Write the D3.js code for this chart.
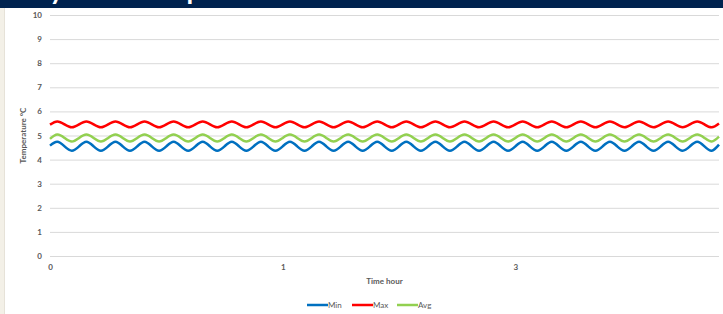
<!DOCTYPE html>
<html>
<head>
<meta charset="utf-8">
<script src="https://cdn.jsdelivr.net/npm/d3@7"></script>
<style>
  body { margin: 0; background: #ffffff; }
  svg { display: block; }
  text { font-family: Lato, "Liberation Sans", sans-serif; }
</style>
</head>
<body>
<div id="chart"></div>
<script>
// x categories: sample index, labels shown at a few of them
var tickIndex = [0, 32, 64];
var tickLabels = ["0", "1", "3"];

var seriesNames = ["Min", "Max", "Avg"];
var seriesColors = ["#0070c0", "#ff0000", "#92d050"];

// 4 samples per wave
var minTemp = [
  4.58, 4.74, 4.55, 4.37, 4.55, 4.74, 4.55, 4.37, 4.55, 4.74, 4.55, 4.37,
  4.55, 4.74, 4.55, 4.37, 4.55, 4.74, 4.55, 4.37, 4.55, 4.74, 4.55, 4.37,
  4.55, 4.74, 4.55, 4.37, 4.55, 4.74, 4.55, 4.37, 4.55, 4.74, 4.55, 4.37,
  4.55, 4.74, 4.55, 4.37, 4.55, 4.74, 4.55, 4.37, 4.55, 4.74, 4.55, 4.37,
  4.55, 4.74, 4.55, 4.37, 4.55, 4.74, 4.55, 4.37, 4.55, 4.74, 4.55, 4.37,
  4.55, 4.74, 4.55, 4.37, 4.55, 4.74, 4.55, 4.37, 4.55, 4.74, 4.55, 4.37,
  4.55, 4.74, 4.55, 4.37, 4.55, 4.74, 4.55, 4.37, 4.55, 4.74, 4.55, 4.37,
  4.55, 4.74, 4.55, 4.37, 4.55, 4.74, 4.55, 4.37, 4.62
];
var maxTemp = [
  5.45, 5.58, 5.46, 5.34, 5.46, 5.58, 5.46, 5.34, 5.46, 5.58, 5.46, 5.34,
  5.46, 5.58, 5.46, 5.34, 5.46, 5.58, 5.46, 5.34, 5.46, 5.58, 5.46, 5.34,
  5.46, 5.58, 5.46, 5.34, 5.46, 5.58, 5.46, 5.34, 5.46, 5.58, 5.46, 5.34,
  5.46, 5.58, 5.46, 5.34, 5.46, 5.58, 5.46, 5.34, 5.46, 5.58, 5.46, 5.34,
  5.46, 5.58, 5.46, 5.34, 5.46, 5.58, 5.46, 5.34, 5.46, 5.58, 5.46, 5.34,
  5.46, 5.58, 5.46, 5.34, 5.46, 5.58, 5.46, 5.34, 5.46, 5.58, 5.46, 5.34,
  5.46, 5.58, 5.46, 5.34, 5.46, 5.58, 5.46, 5.34, 5.46, 5.58, 5.46, 5.34,
  5.46, 5.58, 5.46, 5.34, 5.46, 5.58, 5.46, 5.34, 5.50
];
var avgTemp = [
  4.86, 5.04, 4.90, 4.75, 4.90, 5.04, 4.90, 4.75, 4.90, 5.04, 4.90, 4.75,
  4.90, 5.04, 4.90, 4.75, 4.90, 5.04, 4.90, 4.75, 4.90, 5.04, 4.90, 4.75,
  4.90, 5.04, 4.90, 4.75, 4.90, 5.04, 4.90, 4.75, 4.90, 5.04, 4.90, 4.75,
  4.90, 5.04, 4.90, 4.75, 4.90, 5.04, 4.90, 4.75, 4.90, 5.04, 4.90, 4.75,
  4.90, 5.04, 4.90, 4.75, 4.90, 5.04, 4.90, 4.75, 4.90, 5.04, 4.90, 4.75,
  4.90, 5.04, 4.90, 4.75, 4.90, 5.04, 4.90, 4.75, 4.90, 5.04, 4.90, 4.75,
  4.90, 5.04, 4.90, 4.75, 4.90, 5.04, 4.90, 4.75, 4.90, 5.04, 4.90, 4.75,
  4.90, 5.04, 4.90, 4.75, 4.90, 5.04, 4.90, 4.75, 4.95
];
var yTicks = [0, 1, 2, 3, 4, 5, 6, 7, 8, 9, 10];

(function () {
  var width = 723, height = 314;
  var plotLeft = 50, plotRight = 719, plotTop = 15, plotBottom = 256;
  var font = "Lato, 'Liberation Sans', sans-serif";

  var svg = d3.select("#chart").append("svg")
    .attr("width", width)
    .attr("height", height);

  // page background: beige strip on the left, dark title bar at top
  svg.append("rect").attr("x", 0).attr("y", 0).attr("width", 4).attr("height", height).attr("fill", "#f3f0e7");
  svg.append("line").attr("x1", 4.5).attr("x2", 4.5).attr("y1", 0).attr("y2", height).attr("stroke", "#e6e2d8");

  svg.append("clipPath").attr("id", "bar")
    .append("rect").attr("x", 0).attr("y", 0).attr("width", width).attr("height", 8);
  var bar = svg.append("g").attr("clip-path", "url(#bar)");
  bar.append("rect").attr("x", 0).attr("y", 0).attr("width", width).attr("height", 8).attr("fill", "#00234f");
  // title sits mostly above the visible area, only descenders show
  bar.append("text")
    .attr("x", 2).attr("y", 0)
    .attr("fill", "#ffffff")
    .attr("font-size", 27).attr("font-weight", "bold")
    .text("Daily room temperature");

  var n = minTemp.length;
  var x = d3.scaleLinear().domain([0, n - 1]).range([plotLeft, plotRight]);
  var y = d3.scaleLinear().domain([0, 10]).range([plotBottom, plotTop]);

  // gridlines and y labels
  var yAxis = d3.axisLeft(y).tickValues(yTicks).tickSize(-(plotRight - plotLeft)).tickPadding(8);
  var gy = svg.append("g").attr("transform", "translate(" + plotLeft + ",0)").call(yAxis);
  gy.select(".domain").remove();
  gy.selectAll(".tick line").attr("stroke", "#d9d9d9").attr("stroke-width", 1);
  gy.selectAll(".tick text").attr("fill", "#595959").attr("font-size", 8).attr("font-weight", "bold")
    .attr("font-family", font);

  // x labels
  var xAxis = d3.axisBottom(x).tickValues(tickIndex)
    .tickFormat(function (d, i) { return tickLabels[i]; })
    .tickSize(0).tickPadding(8);
  var gx = svg.append("g").attr("transform", "translate(0," + plotBottom + ")").call(xAxis);
  gx.select(".domain").remove();
  gx.selectAll(".tick text").attr("fill", "#595959").attr("font-size", 8).attr("font-weight", "bold")
    .attr("font-family", font);

  // axis titles
  svg.append("text")
    .attr("transform", "translate(26," + ((plotTop + plotBottom) / 2) + ") rotate(-90)")
    .attr("text-anchor", "middle")
    .attr("fill", "#595959").attr("font-size", 8).attr("font-weight", "bold")
    .text("Temperature °C");
  svg.append("text")
    .attr("x", (plotLeft + plotRight) / 2).attr("y", 284)
    .attr("text-anchor", "middle")
    .attr("fill", "#595959").attr("font-size", 8).attr("font-weight", "bold")
    .text("Time hour");

  // lines
  var series = [minTemp, maxTemp, avgTemp];
  var line = d3.line()
    .x(function (d, i) { return x(i); })
    .y(function (d) { return y(d); })
    .curve(d3.curveNatural);

  svg.selectAll(".series")
    .data(series)
    .enter().append("path")
    .attr("class", "series")
    .attr("d", line)
    .attr("fill", "none")
    .attr("stroke", function (d, i) { return seriesColors[i]; })
    .attr("stroke-width", 2.5)
    .attr("stroke-linejoin", "round");

  // legend
  var legendX = [307, 352, 397];
  var legend = svg.selectAll(".legend")
    .data(seriesNames)
    .enter().append("g")
    .attr("class", "legend")
    .attr("transform", function (d, i) { return "translate(" + legendX[i] + ",305)"; });
  legend.append("line")
    .attr("x1", 0).attr("x2", 21).attr("y1", 0).attr("y2", 0)
    .attr("stroke", function (d, i) { return seriesColors[i]; })
    .attr("stroke-width", 2.5);
  legend.append("text")
    .attr("x", 21).attr("y", 3)
    .attr("fill", "#595959").attr("font-size", 8)
    .text(function (d) { return d; });
})();
</script>
</body>
</html>
